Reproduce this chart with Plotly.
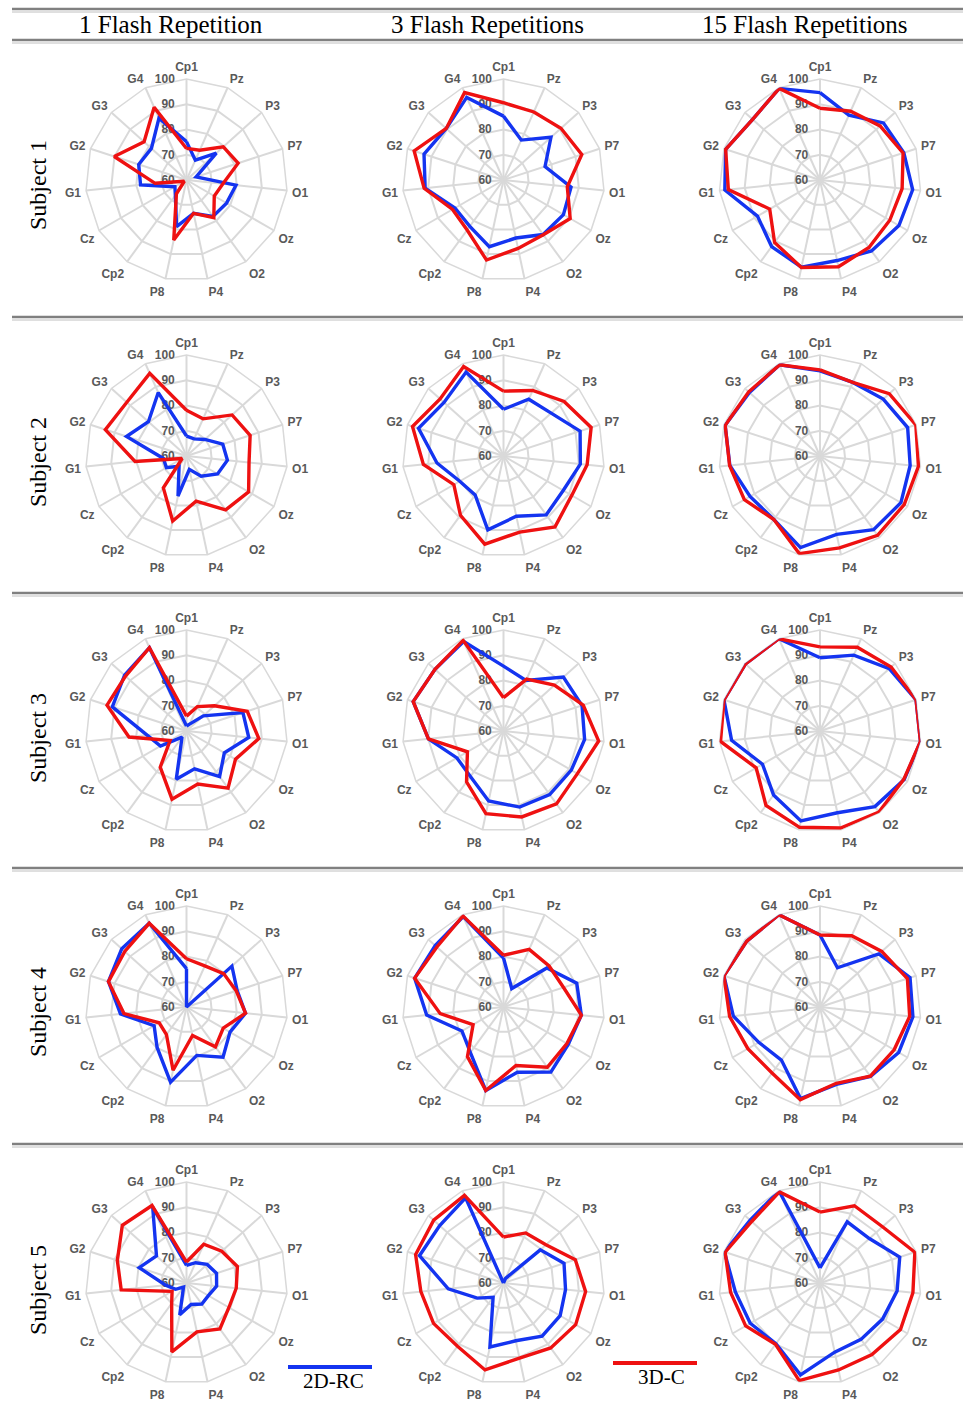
import plotly.graph_objects as go

channels = ["Cp1", "Pz", "P3", "P7", "O1", "Oz", "O2", "P4", "P8", "Cp2", "Cz", "G1", "G2", "G3", "G4"]
col_titles = ["1 Flash Repetition", "3 Flash Repetitions", "15 Flash Repetitions"]
row_titles = ["Subject 1", "Subject 2", "Subject 3", "Subject 4", "Subject 5"]
radial_ticks = [60, 70, 80, 90, 100]
legend_names = ["2D-RC", "3D-C"]

# ---- accuracy values (%), order as in `channels` ----
s1_f1_2d = [75.2, 68.6, 75.9, 64.0, 79.7, 78.3, 77.8, 73.5, 78.9, 67.5, 65.3, 78.3, 79.9, 78.7, 86.8]
s1_f1_3d = [72.5, 72.9, 79.6, 81.5, 74.5, 72.7, 78.4, 73.5, 84.3, 66.8, 61.0, 72.5, 90.1, 82.6, 91.5]
s1_f3_2d = [85.3, 77.3, 85.3, 77.3, 86.9, 87.4, 86.7, 83.5, 87.0, 82.7, 82.2, 91.2, 93.1, 90.5, 95.8]
s1_f3_3d = [90.6, 89.5, 90.6, 92.6, 85.4, 90.5, 86.8, 87.7, 92.4, 84.5, 83.3, 91.6, 97.2, 90.5, 97.9]
s1_f15_2d = [94.6, 88.1, 93.8, 94.9, 96.9, 96.1, 94.7, 92.6, 95.3, 92.6, 88.6, 97.9, 99.3, 95.9, 99.7]
s1_f15_3d = [88.4, 89.8, 92.0, 94.6, 92.7, 91.9, 93.0, 95.1, 95.4, 90.6, 83.0, 96.5, 99.3, 95.9, 99.7]

s2_f1_2d = [67.9, 67.4, 69.8, 75.1, 76.3, 74.2, 69.9, 65.4, 76.2, 65.0, 69.2, 69.2, 85.0, 80.3, 87.5]
s2_f1_3d = [78.1, 76.1, 84.3, 86.5, 84.9, 88.4, 86.4, 78.3, 86.3, 75.6, 62.0, 80.5, 93.8, 91.8, 95.8]
s2_f3_2d = [78.5, 84.6, 85.4, 91.9, 90.6, 87.3, 88.8, 84.4, 89.9, 79.1, 80.0, 86.5, 95.4, 91.7, 96.4]
s2_f3_3d = [85.7, 88.4, 92.3, 96.5, 93.3, 91.2, 94.7, 90.8, 95.7, 89.0, 82.7, 91.9, 97.9, 93.8, 98.8]
s2_f15_2d = [93.7, 91.9, 93.7, 96.5, 95.9, 97.0, 96.1, 91.7, 97.1, 91.1, 92.0, 95.9, 99.5, 97.6, 99.5]
s2_f15_3d = [94.1, 91.9, 96.9, 99.9, 99.2, 98.5, 98.8, 97.2, 99.5, 91.1, 94.6, 96.0, 99.5, 98.0, 99.5]

s3_f1_2d = [62.0, 63.0, 69.0, 83.5, 84.8, 77.3, 82.3, 75.3, 79.5, 63.0, 71.9, 75.7, 90.9, 93.0, 96.1]
s3_f1_3d = [65.9, 70.6, 74.9, 85.3, 88.8, 82.4, 88.0, 81.5, 87.6, 77.7, 67.5, 82.9, 93.1, 92.5, 96.1]
s3_f3_2d = [85.7, 81.9, 91.9, 92.7, 92.3, 91.0, 91.1, 90.8, 88.3, 82.3, 81.3, 89.9, 97.6, 96.5, 98.8]
s3_f3_3d = [73.2, 82.5, 87.1, 93.2, 97.9, 93.8, 95.7, 94.8, 93.5, 84.9, 76.5, 89.9, 97.6, 96.5, 99.3]
s3_f15_2d = [89.0, 92.9, 96.9, 100.0, 100.0, 98.5, 97.0, 93.1, 96.4, 91.3, 86.3, 95.2, 100.0, 99.7, 100.0]
s3_f15_3d = [93.3, 96.3, 97.9, 100.0, 100.0, 98.3, 99.7, 99.3, 99.0, 96.4, 89.2, 99.6, 100.0, 99.7, 100.0]

s4_f1_2d = [75.2, 60.0, 84.2, 81.1, 83.5, 79.9, 84.6, 79.6, 90.4, 79.8, 74.8, 86.3, 92.5, 94.5, 96.3]
s4_f1_3d = [79.1, 77.8, 79.8, 80.7, 83.5, 76.8, 79.5, 71.5, 85.6, 73.5, 72.5, 84.9, 92.5, 92.9, 96.3]
s4_f3_2d = [79.4, 68.0, 83.1, 90.5, 91.0, 89.6, 91.9, 86.4, 93.8, 82.3, 79.0, 90.6, 97.0, 96.4, 99.2]
s4_f3_3d = [80.5, 85.0, 84.3, 85.0, 91.0, 89.0, 89.5, 83.7, 93.8, 84.3, 73.9, 85.2, 97.0, 95.5, 99.5]
s4_f15_2d = [88.5, 77.0, 91.4, 97.5, 97.0, 96.0, 94.0, 91.3, 97.1, 86.0, 88.0, 94.5, 100.0, 99.0, 100.0]
s4_f15_3d = [88.5, 90.9, 92.9, 96.4, 95.7, 93.9, 93.9, 90.9, 97.5, 92.3, 93.0, 96.0, 100.0, 99.0, 100.0]

s5_f1_2d = [67.0, 68.8, 71.0, 72.5, 72.0, 70.0, 70.3, 68.7, 72.9, 62.0, 65.0, 68.3, 79.7, 76.0, 92.9]
s5_f1_3d = [68.3, 76.8, 78.8, 81.2, 79.8, 79.4, 82.5, 79.8, 87.9, 70.0, 66.6, 86.0, 88.8, 94.2, 93.6]
s5_f3_2d = [60.0, 62.0, 79.6, 85.2, 84.7, 85.9, 86.0, 83.4, 85.9, 67.0, 72.0, 82.0, 95.0, 94.0, 96.9]
s5_f3_3d = [78.2, 81.7, 82.6, 89.9, 92.7, 93.0, 91.8, 90.4, 95.2, 91.0, 92.0, 92.9, 96.6, 97.2, 98.0]
s5_f15_2d = [66.0, 86.5, 86.3, 93.2, 90.7, 88.6, 87.6, 88.0, 97.2, 89.7, 91.9, 93.7, 99.8, 97.2, 100.0]
s5_f15_3d = [88.1, 93.5, 93.3, 99.5, 97.0, 96.8, 95.0, 95.2, 99.5, 90.0, 94.0, 95.6, 99.5, 96.4, 99.5]

grid = [
    [(s1_f1_2d, s1_f1_3d), (s1_f3_2d, s1_f3_3d), (s1_f15_2d, s1_f15_3d)],
    [(s2_f1_2d, s2_f1_3d), (s2_f3_2d, s2_f3_3d), (s2_f15_2d, s2_f15_3d)],
    [(s3_f1_2d, s3_f1_3d), (s3_f3_2d, s3_f3_3d), (s3_f15_2d, s3_f15_3d)],
    [(s4_f1_2d, s4_f1_3d), (s4_f3_2d, s4_f3_3d), (s4_f15_2d, s4_f15_3d)],
    [(s5_f1_2d, s5_f1_3d), (s5_f3_2d, s5_f3_3d), (s5_f15_2d, s5_f15_3d)],
]

# ---- layout geometry (pixels) ----
W, H = 963, 1416
col_cx = [186.5, 503.5, 820.0]
row_cy = [180.0, 456.0, 731.0, 1007.0, 1283.0]
R = 101.0
BLUE = "#1434F0"
RED = "#EE1111"
GRID = "#D9D9D9"
LBL = "#595959"

def px(x):
    return x / W

def py(y):
    return 1 - y / H

fig = go.Figure()
layout_polars = {}
k = 0
for ri in range(5):
    for ci in range(3):
        k += 1
        name = "polar" if k == 1 else f"polar{k}"
        cx, cy = col_cx[ci], row_cy[ri]
        layout_polars[name] = dict(
            domain=dict(x=[px(cx - R), px(cx + R)], y=[py(cy + R), py(cy - R)]),
            bgcolor="rgba(0,0,0,0)",
            gridshape="linear",
            radialaxis=dict(
                range=[60, 100], tickvals=radial_ticks, angle=90, tickangle=90,
                side="counterclockwise", showline=False, ticks="outside", ticklen=7,
                tickcolor="rgba(0,0,0,0)",
                gridcolor=GRID, gridwidth=1.5, layer="below traces",
                tickfont=dict(family="Liberation Sans", size=12, color=LBL, weight="bold"),
            ),
            angularaxis=dict(
                direction="clockwise", rotation=90, categoryorder="array",
                categoryarray=channels, ticks="outside", ticklen=2,
                tickcolor="rgba(0,0,0,0)", showline=True, linecolor=GRID,
                linewidth=1.5, gridcolor=GRID, gridwidth=1.5, layer="below traces",
                tickfont=dict(family="Liberation Sans", size=12, color=LBL, weight="bold"),
            ),
        )
        blue_vals, red_vals = grid[ri][ci]
        for vals, color, nm in ((blue_vals, BLUE, legend_names[0]), (red_vals, RED, legend_names[1])):
            fig.add_trace(go.Scatterpolar(
                r=list(vals) + [vals[0]], theta=channels + [channels[0]],
                mode="lines", line=dict(color=color, width=3.4),
                name=nm, subplot=name, showlegend=False, hoverinfo="skip",
            ))

shapes = []
def hline(y, x0=12, x1=963, color="#7F7F7F", width=2.2):
    shapes.append(dict(type="line", xref="paper", yref="paper", x0=px(x0), x1=px(x1),
                       y0=py(y), y1=py(y), line=dict(color=color, width=width)))

for y in [9, 40, 317, 593, 868, 1144]:
    hline(y, color="#808080", width=2.4)
    hline(y + 3, color="#C0C0C0", width=1)

# legend lines
shapes.append(dict(type="line", xref="paper", yref="paper", x0=px(288), x1=px(372),
                   y0=py(1367), y1=py(1367), line=dict(color=BLUE, width=4)))
shapes.append(dict(type="line", xref="paper", yref="paper", x0=px(613), x1=px(697),
                   y0=py(1363), y1=py(1363), line=dict(color=RED, width=4)))

annotations = []
serif = dict(family="Liberation Serif", color="#000000")
head_x = [171, 487, 805]
for t, x in zip(col_titles, head_x):
    annotations.append(dict(text=t, x=px(x), y=py(25), xref="paper", yref="paper",
                            showarrow=False, xanchor="center", yanchor="middle",
                            font=dict(size=25, **serif)))
row_lbl_y = [185, 462, 738, 1012, 1290]
for t, y in zip(row_titles, row_lbl_y):
    annotations.append(dict(text=t, x=px(38), y=py(y), xref="paper", yref="paper",
                            showarrow=False, textangle=-90, xanchor="center", yanchor="middle",
                            font=dict(size=24, **serif)))
annotations.append(dict(text=legend_names[0], x=px(333), y=py(1381), xref="paper", yref="paper",
                        showarrow=False, xanchor="center", yanchor="middle", font=dict(size=21, **serif)))
annotations.append(dict(text=legend_names[1], x=px(661), y=py(1377), xref="paper", yref="paper",
                        showarrow=False, xanchor="center", yanchor="middle", font=dict(size=21, **serif)))

fig.update_layout(
    width=W, height=H, margin=dict(l=0, r=0, t=0, b=0),
    paper_bgcolor="white", plot_bgcolor="white", showlegend=False,
    shapes=shapes, annotations=annotations, **layout_polars,
)

fig.write_html("out.html", config={"displayModeBar": False},
               post_script="document.body.style.margin='0';")
